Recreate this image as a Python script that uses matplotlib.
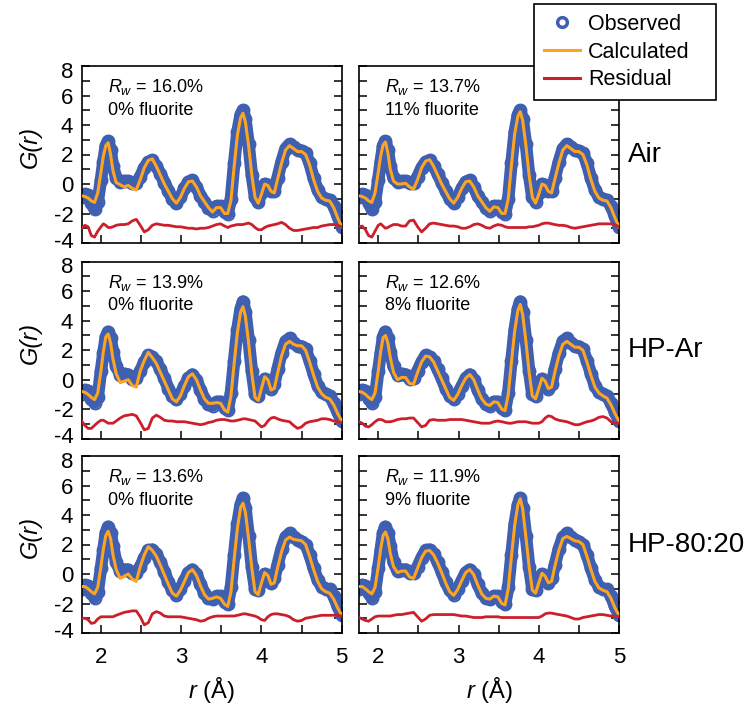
import matplotlib
matplotlib.use("Agg")
import matplotlib.pyplot as plt
from matplotlib.lines import Line2D
from matplotlib.ticker import MultipleLocator
from matplotlib.transforms import ScaledTranslation

plt.rcParams['font.family'] = ['Liberation Sans', 'DejaVu Sans']
plt.rcParams['mathtext.fontset'] = 'custom'
plt.rcParams['mathtext.rm'] = 'Liberation Sans'
plt.rcParams['mathtext.it'] = 'Liberation Sans:italic'
plt.rcParams['axes.unicode_minus'] = False

# r grid (Angstrom)
r = [1.76, 1.80, 1.84, 1.88, 1.92, 1.96, 2.00, 2.03, 2.06, 2.09,
     2.12, 2.15, 2.19, 2.24, 2.29, 2.34, 2.39, 2.44, 2.49, 2.54,
     2.59, 2.64, 2.69, 2.74, 2.79, 2.84, 2.89, 2.94, 2.99, 3.04,
     3.09, 3.14, 3.19, 3.24, 3.29, 3.34, 3.39, 3.44, 3.49, 3.54,
     3.58, 3.62, 3.66, 3.70, 3.74, 3.77, 3.80, 3.84, 3.88, 3.92,
     3.96, 4.00, 4.04, 4.08, 4.12, 4.16, 4.20, 4.25, 4.30, 4.35,
     4.40, 4.45, 4.50, 4.55, 4.60, 4.65, 4.70, 4.75, 4.80, 4.85,
     4.90, 4.95, 5.00]

# observed G(r), one per sample
obs_air = [-0.9, -0.7, -0.75, -1.3, -1.7, -1.2, 0.3, 1.5, 2.6, 2.9,
           2.3, 1.2, 0.4, 0.15, 0.2, 0.2, 0.1, 0.05, 0.5, 1.1,
           1.5, 1.6, 1.2, 0.7, 0.1, -0.45, -1.0, -1.3, -0.9, -0.3,
           0.15, 0.25, -0.2, -0.8, -1.2, -1.6, -1.8, -1.5, -1.5, -1.9,
           -2.0, -1.0, 1.4, 3.5, 4.7, 5.0, 4.4, 2.7, 0.6, -0.9,
           -1.2, -0.6, 0.0, -0.1, -0.5, -0.5, 0.4, 1.5, 2.4, 2.7,
           2.5, 2.3, 2.25, 2.1, 1.4, 0.4, -0.4, -0.9, -1.05, -1.1,
           -1.5, -2.2, -2.9]
obs_hpar = [-0.95, -0.7, -0.75, -1.3, -1.55, -1.2, 0.6, 1.8, 2.9, 3.25,
            2.8, 1.9, 0.9, 0.35, 0.4, 0.35, 0.05, 0.1, 0.6, 1.2,
            1.65, 1.55, 1.25, 0.7, 0.1, -0.6, -1.1, -1.3, -0.95, -0.45,
            0.1, 0.35, 0.0, -0.7, -1.3, -1.65, -1.75, -1.5, -1.5, -1.9,
            -2.05, -0.9, 1.3, 3.4, 4.8, 5.3, 4.6, 2.7, 0.6, -1.0,
            -1.1, -0.5, 0.05, -0.2, -0.6, -0.3, 0.7, 1.8, 2.6, 2.8,
            2.5, 2.3, 2.25, 2.05, 1.3, 0.4, -0.4, -0.85, -1.0, -1.1,
            -1.6, -2.2, -2.8]
obs_hp8020 = [-1.05, -0.75, -0.8, -1.3, -1.6, -1.2, 0.4, 1.6, 2.8, 3.2,
              2.8, 1.9, 0.8, 0.2, 0.3, 0.3, 0.05, 0.05, 0.5, 1.1,
              1.6, 1.65, 1.35, 0.8, 0.15, -0.55, -1.1, -1.4, -1.0, -0.45,
              0.1, 0.3, 0.0, -0.7, -1.3, -1.6, -1.7, -1.5, -1.5, -1.9,
              -2.05, -0.9, 1.3, 3.4, 4.7, 5.15, 4.5, 2.6, 0.5, -1.0,
              -1.1, -0.5, 0.0, -0.2, -0.6, -0.3, 0.6, 1.7, 2.5, 2.75,
              2.5, 2.3, 2.2, 2.0, 1.3, 0.4, -0.4, -0.85, -1.0, -1.05,
              -1.5, -2.2, -2.8]

# calculated G(r): left column (0% fluorite), right column (with fluorite)
calc_air_a = [-0.8, -0.85, -0.95, -1.15, -1.25, -0.6, 0.8, 1.9, 2.6, 2.8,
              2.0, 0.9, 0.1, -0.05, -0.2, -0.1, -0.3, -0.4, 0.3, 1.1,
              1.6, 1.7, 1.2, 0.6, 0.0, -0.5, -1.0, -1.3, -0.9, -0.3,
              0.15, 0.2, -0.2, -0.8, -1.2, -1.6, -1.9, -1.6, -1.6, -2.0,
              -2.0, -1.1, 1.2, 3.3, 4.5, 4.8, 4.2, 2.6, 0.6, -0.9,
              -1.3, -0.7, 0.0, -0.1, -0.5, -0.6, 0.3, 1.4, 2.3, 2.6,
              2.4, 2.2, 2.2, 2.0, 1.3, 0.3, -0.5, -0.95, -1.1, -1.15,
              -1.6, -2.3, -2.9]
calc_air_b = [-0.8, -0.85, -0.95, -1.15, -1.25, -0.6, 0.8, 1.9, 2.65, 2.85,
              2.1, 1.0, 0.2, 0.0, 0.0, 0.05, -0.2, -0.35, 0.3, 1.1,
              1.55, 1.65, 1.2, 0.6, 0.0, -0.5, -1.0, -1.3, -0.9, -0.3,
              0.15, 0.2, -0.2, -0.8, -1.2, -1.6, -1.85, -1.55, -1.6, -2.0,
              -2.0, -1.0, 1.3, 3.4, 4.6, 4.9, 4.3, 2.6, 0.6, -0.9,
              -1.3, -0.7, 0.0, -0.1, -0.5, -0.6, 0.3, 1.4, 2.3, 2.6,
              2.4, 2.2, 2.2, 2.0, 1.3, 0.3, -0.5, -0.95, -1.1, -1.15,
              -1.6, -2.3, -2.9]
calc_hpar_a = [-0.8, -0.85, -1.0, -1.2, -1.35, -0.9, 0.6, 1.9, 2.9, 3.1,
               2.5, 1.4, 0.4, -0.2, -0.1, 0.0, -0.4, -0.5, 0.6, 1.3,
               1.85, 1.5, 1.1, 0.5, -0.1, -0.7, -1.3, -1.5, -1.1, -0.4,
               0.2, 0.4, 0.0, -0.7, -1.3, -1.6, -1.6, -1.55, -1.6, -2.05,
               -2.2, -1.1, 1.1, 3.2, 4.6, 4.95, 4.3, 2.5, 0.4, -1.2,
               -1.4, -0.6, 0.2, 0.0, -0.7, -0.6, 0.4, 1.6, 2.4, 2.6,
               2.4, 2.3, 2.3, 2.0, 1.2, 0.3, -0.5, -0.95, -1.2, -1.3,
               -1.7, -2.3, -2.8]
calc_hpar_b = [-0.8, -0.85, -1.0, -1.2, -1.35, -0.9, 0.6, 1.9, 2.85, 3.0,
               2.5, 1.5, 0.5, 0.0, 0.15, 0.15, -0.25, -0.3, 0.5, 1.2,
               1.6, 1.55, 1.2, 0.6, 0.0, -0.6, -1.2, -1.4, -1.0, -0.4,
               0.1, 0.35, 0.0, -0.7, -1.3, -1.65, -1.75, -1.5, -1.55, -2.0,
               -2.1, -1.0, 1.2, 3.3, 4.7, 5.1, 4.4, 2.6, 0.5, -1.1,
               -1.3, -0.6, 0.1, -0.1, -0.6, -0.5, 0.5, 1.6, 2.4, 2.6,
               2.4, 2.2, 2.2, 2.0, 1.2, 0.3, -0.5, -0.9, -1.1, -1.25,
               -1.7, -2.3, -2.8]
calc_hp8020_a = [-0.85, -0.85, -1.0, -1.2, -1.35, -0.9, 0.5, 1.7, 2.6, 2.9,
                 2.4, 1.3, 0.3, -0.3, -0.15, 0.0, -0.35, -0.5, 0.5, 1.3,
                 1.85, 1.6, 1.2, 0.6, -0.05, -0.7, -1.3, -1.5, -1.1, -0.5,
                 0.1, 0.3, -0.1, -0.8, -1.4, -1.7, -1.65, -1.55, -1.65, -2.05,
                 -2.2, -1.2, 1.0, 3.1, 4.5, 4.8, 4.2, 2.4, 0.4, -1.2,
                 -1.4, -0.6, 0.1, -0.1, -0.7, -0.6, 0.4, 1.5, 2.3, 2.5,
                 2.35, 2.3, 2.25, 2.0, 1.2, 0.3, -0.5, -1.0, -1.2, -1.3,
                 -1.7, -2.3, -2.8]
calc_hp8020_b = [-0.85, -0.85, -1.0, -1.2, -1.35, -0.9, 0.5, 1.7, 2.6, 2.85,
                 2.4, 1.4, 0.5, 0.1, 0.2, 0.2, -0.2, -0.3, 0.4, 1.1,
                 1.55, 1.6, 1.3, 0.75, 0.1, -0.6, -1.2, -1.45, -1.05, -0.45,
                 0.1, 0.3, -0.05, -0.75, -1.35, -1.65, -1.7, -1.5, -1.55, -2.0,
                 -2.1, -1.0, 1.2, 3.3, 4.7, 5.1, 4.4, 2.5, 0.5, -1.1,
                 -1.3, -0.6, 0.05, -0.15, -0.6, -0.5, 0.5, 1.6, 2.4, 2.55,
                 2.4, 2.25, 2.2, 2.0, 1.2, 0.3, -0.5, -0.95, -1.1, -1.2,
                 -1.65, -2.3, -2.8]

# residuals as plotted (offset below the data)
res_air_a = [-3.0, -2.8, -2.9, -3.5, -3.6, -3.2, -2.9, -2.7, -2.8, -2.95,
             -2.95, -2.9, -2.8, -2.75, -2.75, -2.7, -2.5, -2.4, -2.8, -3.25,
             -3.1, -2.8, -2.7, -2.75, -2.8, -2.8, -2.85, -2.9, -2.9, -2.95,
             -3.0, -3.0, -3.05, -3.0, -3.0, -2.95, -2.85, -2.75, -2.7, -2.85,
             -2.95, -2.85, -2.8, -2.75, -2.75, -2.75, -2.7, -2.65, -2.75, -2.95,
             -3.1, -3.1, -2.95, -2.85, -2.8, -2.75, -2.7, -2.6, -2.75, -3.0,
             -3.15, -3.15, -3.1, -3.05, -3.0, -2.95, -2.95, -2.85, -2.8, -2.75,
             -2.75, -2.8, -2.9]
res_air_b = [-2.9, -2.85, -3.1, -3.5, -3.6, -3.2, -2.8, -2.7, -2.85, -3.0,
             -2.95, -2.85, -2.75, -2.75, -2.85, -2.85, -2.5, -2.45, -2.9, -3.25,
             -3.0, -2.7, -2.65, -2.7, -2.75, -2.8, -2.85, -2.85, -2.9, -3.0,
             -3.0, -2.9, -2.75, -2.7, -2.8, -2.95, -3.0, -2.85, -2.75, -2.8,
             -2.9, -2.95, -2.95, -2.95, -2.95, -2.95, -2.95, -2.95, -2.9, -2.9,
             -2.85, -2.8, -2.7, -2.65, -2.65, -2.7, -2.75, -2.8, -2.8, -2.85,
             -2.95, -3.0, -2.95, -2.9, -2.85, -2.8, -2.75, -2.7, -2.7, -2.7,
             -2.7, -2.75, -2.9]
res_hpar_a = [-2.8, -3.1, -3.3, -3.3, -3.1, -2.9, -2.75, -2.75, -2.85, -2.95,
              -2.95, -2.95, -2.8, -2.6, -2.45, -2.4, -2.35, -2.45, -2.9, -3.4,
              -3.3, -2.6, -2.4, -2.55, -2.75, -2.8, -2.8, -2.85, -2.85, -2.85,
              -2.9, -2.95, -3.0, -3.05, -3.0, -2.9, -2.85, -2.75, -2.7, -2.7,
              -2.75, -2.8, -2.8, -2.75, -2.7, -2.65, -2.65, -2.7, -2.75, -2.8,
              -3.0, -3.2, -3.1, -2.8, -2.6, -2.55, -2.65, -2.75, -2.8, -2.85,
              -3.1, -3.3, -3.2, -2.95, -2.85, -2.8, -2.75, -2.65, -2.65, -2.7,
              -2.8, -2.85, -2.9]
res_hpar_b = [-2.85, -2.95, -3.15, -3.2, -3.05, -2.85, -2.7, -2.7, -2.75, -2.85,
              -2.85, -2.85, -2.8, -2.7, -2.65, -2.65, -2.6, -2.6, -2.9, -3.2,
              -3.1, -2.75, -2.7, -2.75, -2.75, -2.75, -2.7, -2.7, -2.7, -2.7,
              -2.75, -2.8, -2.85, -2.9, -2.95, -2.95, -2.95, -2.85, -2.8, -2.85,
              -2.9, -2.95, -2.95, -2.9, -2.85, -2.85, -2.85, -2.85, -2.9, -2.95,
              -2.95, -2.95, -2.85, -2.6, -2.45, -2.5, -2.65, -2.75, -2.8, -2.85,
              -2.95, -3.05, -3.05, -2.95, -2.85, -2.8, -2.7, -2.55, -2.5, -2.6,
              -2.85, -2.95, -2.95]
res_hp8020_a = [-3.0, -3.0, -3.1, -3.35, -3.3, -3.05, -2.9, -2.9, -2.9, -2.9,
                -2.9, -2.9, -2.8, -2.7, -2.6, -2.55, -2.5, -2.5, -2.9, -3.45,
                -3.3, -2.7, -2.55, -2.65, -2.85, -2.9, -2.9, -2.9, -2.9, -2.95,
                -3.0, -3.05, -3.1, -3.2, -3.15, -3.0, -2.9, -2.85, -2.85, -2.85,
                -2.85, -2.85, -2.85, -2.8, -2.75, -2.7, -2.7, -2.75, -2.8, -2.85,
                -2.95, -3.1, -3.15, -2.9, -2.75, -2.7, -2.7, -2.75, -2.8, -2.9,
                -3.1, -3.2, -3.15, -3.0, -2.95, -2.9, -2.85, -2.8, -2.8, -2.8,
                -2.8, -2.8, -2.85]
res_hp8020_b = [-2.95, -3.05, -3.15, -3.2, -3.05, -2.9, -2.85, -2.85, -2.85, -2.85,
                -2.85, -2.85, -2.8, -2.75, -2.75, -2.7, -2.65, -2.6, -2.9, -3.2,
                -3.05, -2.8, -2.75, -2.75, -2.75, -2.75, -2.75, -2.75, -2.8, -2.85,
                -2.85, -2.9, -2.95, -2.95, -2.95, -2.9, -2.9, -2.9, -2.9, -2.95,
                -2.95, -2.95, -2.95, -2.95, -2.95, -2.95, -2.95, -2.95, -2.95, -2.95,
                -2.95, -2.95, -2.85, -2.7, -2.65, -2.65, -2.7, -2.75, -2.8, -2.85,
                -2.95, -3.05, -3.05, -2.95, -2.9, -2.85, -2.8, -2.75, -2.75, -2.8,
                -2.85, -2.85, -2.9]

row_names = ["Air", "HP-Ar", "HP-80:20"]
rw_values = [["16.0", "13.7"], ["13.9", "12.6"], ["13.6", "11.9"]]
fluorite = [["0", "11"], ["0", "8"], ["0", "9"]]
y_ticks = [-4, -2, 0, 2, 4, 6, 8]
x_ticks = [2, 3, 4, 5]

obs_rows = [obs_air, obs_hpar, obs_hp8020]
calc_rows = [[calc_air_a, calc_air_b], [calc_hpar_a, calc_hpar_b],
             [calc_hp8020_a, calc_hp8020_b]]
res_rows = [[res_air_a, res_air_b], [res_hpar_a, res_hpar_b],
            [res_hp8020_a, res_hp8020_b]]

blue = '#3f5fb0'
orange = '#ffa41f'
red = '#cc1f2b'

W, H = 751, 706
fig = plt.figure(figsize=(W / 100, H / 100), dpi=100)

col_x = [81.7, 359.0]
col_w = 260.0
row_top = [66.0, 261.7, 456.0]
row_h = 177.0

for i in range(3):
    for j in range(2):
        ax = fig.add_axes([col_x[j] / W, 1 - (row_top[i] + row_h) / H,
                           col_w / W, row_h / H])
        ax.plot(r, obs_rows[i], color=blue, lw=9, solid_capstyle='round',
                solid_joinstyle='round', zorder=2)
        ax.plot(r, obs_rows[i], ls='none', marker='o', ms=8.5, mfc='none',
                mec=blue, mew=1.5, zorder=2)
        ax.plot(r, calc_rows[i][j], color=orange, lw=2.2, zorder=3)
        ax.plot(r, res_rows[i][j], color=red, lw=2.0, zorder=3)

        ax.set_xlim(1.76, 5.0)
        ax.set_ylim(-4, 8)
        ax.set_xticks(x_ticks)
        ax.xaxis.set_minor_locator(MultipleLocator(0.5))
        ax.set_yticks(y_ticks)
        ax.yaxis.set_minor_locator(MultipleLocator(1))
        ax.tick_params(which='both', direction='in', left=True, right=True,
                       top=False, bottom=True, length=6, width=1.1,
                       labelsize=16)
        ax.tick_params(axis='y', pad=6)
        ax.tick_params(axis='x', pad=10)
        if j == 1:
            ax.tick_params(axis='y', labelleft=False)
        if i < 2:
            ax.tick_params(axis='x', labelbottom=False)
        for sp in ax.spines.values():
            sp.set_linewidth(1.2)

        if j == 0:
            # nudge the end labels apart so stacked panels do not collide
            yticks = ax.yaxis.get_major_ticks()
            for tk, dy in ((yticks[0], 3.5), (yticks[-1], -3.5)):
                tk.label1.set_transform(tk.label1.get_transform() +
                                        ScaledTranslation(0, dy / 100, fig.dpi_scale_trans))

        ax.text(0.1, 0.88, r"$R_w$ = " + rw_values[i][j] + "%",
                transform=ax.transAxes, fontsize=13, va='center', ha='left')
        ax.text(0.1, 0.75, fluorite[i][j] + "% fluorite",
                transform=ax.transAxes, fontsize=13, va='center', ha='left')

        if i == 2:
            fig.text((col_x[j] + col_w / 2) / W, 1 - 690 / H, r"$r$ (Å)",
                     fontsize=17, ha='center', va='center')

    yc = 1 - (row_top[i] + row_h / 2) / H
    fig.text(30 / W, yc + 7 / H, "G(r)", fontsize=17, style='italic',
             rotation=90, ha='center', va='center')
    fig.text(628 / W, yc, row_names[i], fontsize=20, ha='left', va='center')

handles = [
    Line2D([], [], ls='none', marker='o', ms=7, mfc='white', mec=blue, mew=2.5),
    Line2D([], [], color=orange, lw=2.2),
    Line2D([], [], color=red, lw=2.2),
]
leg = fig.legend(handles, ["Observed", "Calculated", "Residual"],
                 loc='upper left',
                 bbox_to_anchor=(534 / W, 1 - 102 / H, 182 / W, 98 / H),
                 mode='expand', fontsize=15.5, frameon=True, fancybox=False,
                 framealpha=1, edgecolor='black', handlelength=1.7,
                 handletextpad=0.35, borderpad=0.45, labelspacing=0.32,
                 borderaxespad=0)
leg.get_frame().set_linewidth(1.2)

fig.savefig("out.png", dpi=100)
